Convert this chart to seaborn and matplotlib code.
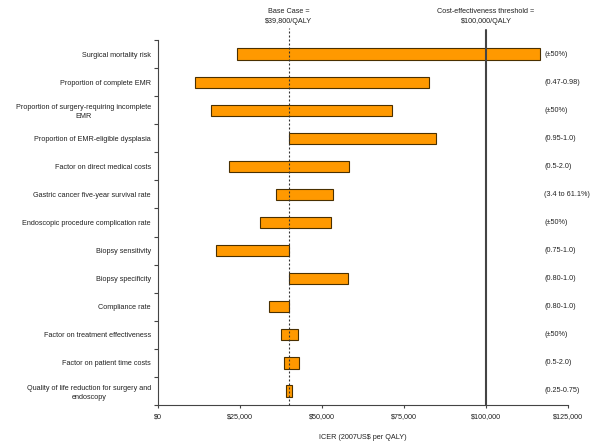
import numpy as np
import pandas as pd
import matplotlib
matplotlib.use("Agg")
import matplotlib.pyplot as plt
import seaborn as sns

# parámetros del análisis de sensibilidad (tornado)
parametros = [
    "Surgical mortality risk",
    "Proportion of complete EMR",
    "Proportion of surgery-requiring incomplete\nEMR",
    "Proportion of EMR-eligible dysplasia",
    "Factor on direct medical costs",
    "Gastric cancer five-year survival rate",
    "Endoscopic procedure complication rate",
    "Biopsy sensitivity",
    "Biopsy specificity",
    "Compliance rate",
    "Factor on treatment effectiveness",
    "Factor on patient time costs",
    "Quality of life reduction for surgery and\nendoscopy",
]
icer_bajo = [24200, 11400, 16200, 39800, 21600, 36100, 31100, 17700, 39800, 33900, 37500, 38300, 38900]
icer_alto = [116500, 82500, 71300, 84900, 58300, 53500, 52800, 39800, 57800, 39800, 42800, 43000, 40900]
rangos = ["(±50%)", "(0.47-0.98)", "(±50%)", "(0.95-1.0)", "(0.5-2.0)", "(3.4 to 61.1%)",
          "(±50%)", "(0.75-1.0)", "(0.80-1.0)", "(0.80-1.0)", "(±50%)", "(0.5-2.0)", "(0.25-0.75)"]
caso_base = 39800
umbral = 100000
ticks_x = [0, 25000, 50000, 75000, 100000, 125000]

df = pd.DataFrame({"parametro": parametros, "bajo": icer_bajo, "alto": icer_alto, "rango": rangos})
df["ancho"] = df["alto"] - df["bajo"]

sns.set_style("ticks")
plt.rcParams["font.family"] = ["Liberation Sans", "DejaVu Sans"]
fs = 5.2

fig = plt.figure(figsize=(6, 4.46), dpi=100)
ax = fig.add_axes([0.2633, 0.0919, 0.6834, 0.8184])

sns.barplot(data=df, x="ancho", y="parametro", order=parametros, left=df["bajo"].values,
            color="#FF9900", saturation=1, edgecolor="#4a3000", linewidth=0.8,
            width=0.4, ax=ax)

n = len(parametros)
ax.set_xlim(0, 125000)
ax.set_ylim(n - 0.5, -0.5)

# lineas de referencia (se salen un poco por arriba del eje)
ax.axvline(caso_base, ymin=0, ymax=1.033, color="#333333", linestyle=(0, (1.8, 1.8)),
           linewidth=0.8, clip_on=False, zorder=5)
ax.axvline(umbral, ymin=0, ymax=1.027, color="#444444", linewidth=1.5,
           clip_on=False, zorder=5)
trans = ax.get_xaxis_transform()
ax.text(caso_base, 1.042, "Base Case =\n$39,800/QALY", ha="center", va="bottom",
        fontsize=fs, color="#222222", linespacing=1.45, transform=trans)
ax.text(umbral, 1.042, "Cost-effectiveness threshold =\n$100,000/QALY", ha="center",
        va="bottom", fontsize=fs, color="#222222", linespacing=1.45, transform=trans)

# rangos de cada parámetro a la derecha
for i, r in enumerate(rangos):
    ax.text(117700, i, r, ha="left", va="center", fontsize=fs, color="#222222")

# ticks del eje y en los limites de cada categoria, etiquetas al centro
ax.set_yticks(np.arange(-0.5, n, 1.0))
ax.set_yticklabels([])
ax.set_yticks(np.arange(n), minor=True)
ax.set_yticklabels(parametros, minor=True, fontsize=fs, color="#222222")
ax.tick_params(axis="y", which="minor", length=0, pad=5)
ax.tick_params(axis="y", which="major", length=3, width=0.8, color="#444444")
for t in ax.get_yticklabels(minor=True):
    t.set_multialignment("center")
    t.set_linespacing(1.45)

ax.set_xticks(ticks_x)
ax.set_xticklabels([f"${v:,.0f}" for v in ticks_x], fontsize=fs, color="#222222")
ax.tick_params(axis="x", length=2, width=0.8, color="#444444", pad=4)
ax.set_xlabel("ICER (2007US$ per QALY)", fontsize=fs, color="#222222", labelpad=10)
ax.set_ylabel("")

sns.despine(ax=ax)
for s in ["left", "bottom"]:
    ax.spines[s].set_color("#444444")
    ax.spines[s].set_linewidth(0.8)

fig.savefig("out.png", dpi=100)
